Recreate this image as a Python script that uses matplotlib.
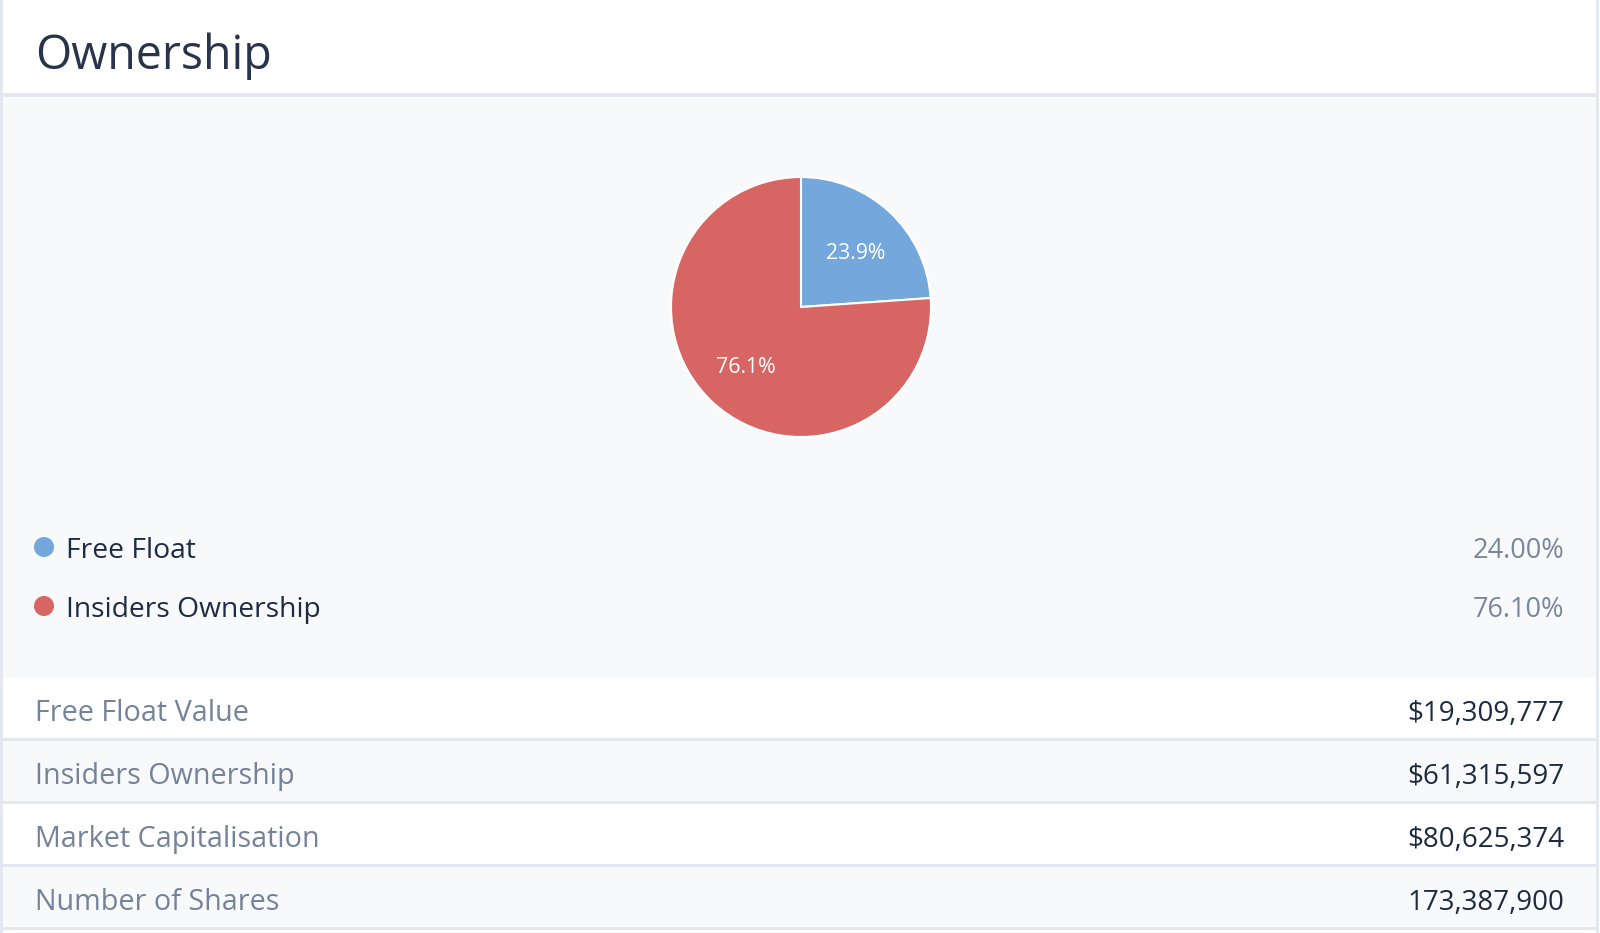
import matplotlib.pyplot as plt
from matplotlib.patches import Rectangle, Circle

plt.rcParams['font.family'] = ['Open Sans', 'DejaVu Sans']

# data
categories = ['Free Float', 'Insiders Ownership']
pie_pct = [23.9, 76.1]
legend_pct = ['24.00%', '76.10%']
colors = ['#74a7db', '#d76563']
table_labels = ['Free Float Value', 'Insiders Ownership', 'Market Capitalisation', 'Number of Shares']
table_values = ['$19,309,777', '$61,315,597', '$80,625,374', '173,387,900']

W, H = 1600, 933
fig = plt.figure(figsize=(W / 100, H / 100), dpi=100)
fig.patch.set_facecolor('white')

# background axes in pixel coords
bg = fig.add_axes([0, 0, 1, 1])
bg.set_xlim(0, W)
bg.set_ylim(H, 0)
bg.axis('off')

border = '#e4e7ee'
light = '#f8f9fb'

bg.add_patch(Rectangle((0, 97), 1597, 581, color=light, lw=0))
bg.add_patch(Rectangle((0, 93), 1597, 4, color=border, lw=0))

# title
bg.text(35, 69, 'Ownership', fontsize=33.5, color='#273449', va='baseline', ha='left')

# legend rows
leg_y = [558, 617]
for i, (cat, pct) in enumerate(zip(categories, legend_pct)):
    bg.add_patch(Circle((44, leg_y[i] - 11), 10, color=colors[i], lw=0))
    bg.text(66, leg_y[i], cat, fontsize=20.3, color='#1e2b45', va='baseline', ha='left')
    bg.text(1564, leg_y[i], pct, fontsize=19.5, color='#7a869a', va='baseline', ha='right')

# table rows
row_top = 678
row_h = 63
for i, (lab, val) in enumerate(zip(table_labels, table_values)):
    y0 = row_top + i * row_h
    bg.add_patch(Rectangle((0, y0), 1597, row_h - 3, color='white' if i % 2 == 0 else light, lw=0))
    bg.add_patch(Rectangle((0, y0 + row_h - 3), 1597, 3, color=border, lw=0))
    base = y0 + 43
    bg.text(35, base, lab, fontsize=20.7, color='#74839a', va='baseline', ha='left')
    bg.text(1564, base, val, fontsize=20, color='#1e2a3f', va='baseline', ha='right')

# side borders
bg.add_patch(Rectangle((0, 0), 3, H, color=border, lw=0))
bg.add_patch(Rectangle((1596, 0), 3, H, color=border, lw=0))

# pie
cx, cy, r = 801, 307, 130
pax = fig.add_axes([(cx - r) / W, 1 - (cy + r) / H, 2 * r / W, 2 * r / H])
wedges, texts, autotexts = pax.pie(pie_pct, colors=colors, startangle=90, counterclock=False,
                                   autopct='%.1f%%', pctdistance=0.6,
                                   wedgeprops=dict(edgecolor='white', linewidth=1.5))
for t in autotexts:
    t.set_color('white')
    t.set_fontsize(15.3)
    x, y = t.get_position()
    t.set_position((x + (0.015 if x > 0 else -0.015), y - 0.03))
pax.set_xlim(-1, 1)
pax.set_ylim(-1, 1)
pax.set_aspect('equal')
pax.axis('off')

fig.savefig('out.png', dpi=100)
